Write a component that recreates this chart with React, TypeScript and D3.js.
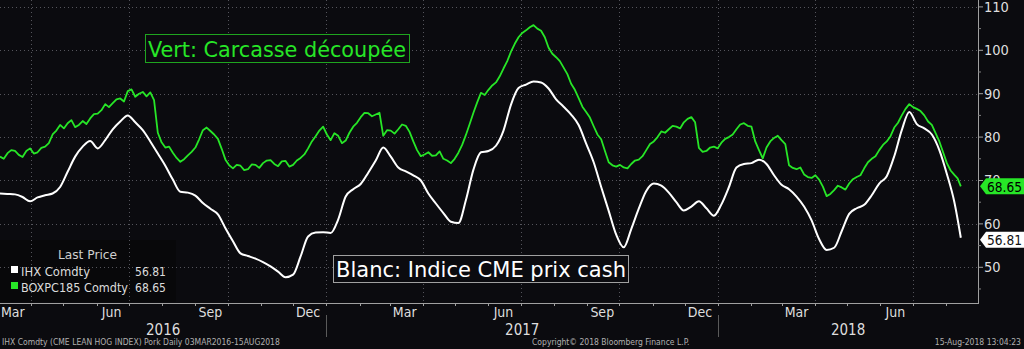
import React from "react";
import * as d3 from "d3";

const W = 1024;
const H = 349;
const startDate = new Date(2016, 2, 3);
const endDate = new Date(2018, 7, 31);
const lastDate = new Date(2018, 7, 15);

// weekly category grid (Thursdays from 03MAR2016) plus the last print 15AUG2018
const weekCount = 128;
const dates: Date[] = [
  ...d3.range(weekCount).map((i) => d3.timeDay.offset(startDate, i * 7)),
  lastDate,
];

// IHX Comdty (CME lean hog index) — white
const ihxValues = [
  67.0, 66.9, 66.8, 66.2, 65.2, 66.1, 66.6, 67.0, 68.5, 72.0,
  75.5, 77.8, 79.1, 77.4, 79.3, 81.8, 83.6, 85.0, 83.4, 81.6,
  79.0, 76.2, 73.4, 70.2, 67.4, 67.2, 66.5, 64.8, 63.5, 62.2,
  59.0, 56.0, 53.2, 52.6, 52.0, 51.2, 50.2, 49.0, 47.7, 48.3,
  52.5, 57.1, 58.0, 58.1, 57.9, 61.0, 66.3, 68.0, 69.2, 71.8,
  74.6, 77.6, 75.5, 73.0, 72.1, 71.2, 70.0, 67.0, 64.7, 62.5,
  60.5, 60.2, 65.5, 72.5, 76.5, 76.8, 78.0, 81.5, 87.5, 91.3,
  92.1, 92.8, 92.6, 91.2, 88.7, 87.0, 85.2, 82.8, 78.5, 74.2,
  68.5, 63.0, 57.5, 54.6, 58.8, 63.5, 67.6, 69.3, 68.8, 67.2,
  65.0, 63.1, 64.0, 65.2, 63.6, 61.9, 64.5, 68.5, 73.0, 73.8,
  74.0, 74.8, 73.8, 71.2, 69.0, 68.0, 66.3, 64.0, 60.8, 56.5,
  54.0, 54.5, 58.3, 62.3, 63.6, 64.4, 66.6, 69.3, 71.0, 75.6,
  81.6, 85.8, 83.0, 82.0, 80.6, 77.0, 71.5, 65.0, 56.81,
];

// BOXPC185 Comdty (pork cutout) — green, weekly prints
const boxValues = [
  75.5, 76.3, 76.8, 75.4, 77.4, 76.5, 77.8, 80.6, 82.8, 83.2,
  82.3, 83.7, 84.3, 85.4, 87.6, 87.8, 88.9, 90.6, 89.3, 90.4,
  90.3, 81.0, 77.6, 76.4, 74.3, 75.8, 77.6, 81.6, 81.4, 79.6,
  74.8, 72.8, 73.4, 72.6, 73.6, 74.0, 74.7, 73.3, 74.5, 73.6,
  75.2, 77.4, 80.2, 82.4, 79.3, 80.3, 79.2, 82.4, 84.6, 85.5,
  85.2, 80.3, 81.5, 81.8, 82.6, 79.0, 75.6, 76.5, 75.8, 75.0,
  74.0, 76.4, 80.5, 85.6, 90.2, 90.9, 92.6, 95.8, 99.7, 103.0,
  104.6, 105.8, 104.5, 100.6, 98.4, 96.0, 92.3, 89.0, 85.8, 82.5,
  79.5, 74.2, 73.2, 73.0, 73.8, 74.8, 77.0, 79.0, 81.3, 81.8,
  82.4, 83.4, 84.6, 77.5, 76.8, 77.8, 78.7, 80.0, 81.8, 83.2,
  82.4, 77.0, 77.6, 79.8, 79.3, 73.5, 72.6, 71.4, 70.6, 70.2,
  66.4, 67.8, 68.4, 69.3, 70.8, 72.8, 75.0, 77.0, 79.0, 82.2,
  85.0, 87.6, 86.5, 85.0, 82.8, 79.0, 74.0, 71.3, 68.65,
];

// BOXPC185 Comdty — mid-week prints (between consecutive weekly prints)
const boxMidValues = [
  75.0, 77.0, 75.9, 76.8, 76.2, 77.5, 78.6, 81.5, 82.0, 83.9,
  82.8, 83.0, 85.3, 86.2, 86.9, 88.7, 88.2, 91.0, 90.0, 89.4,
  88.5, 78.8, 77.8, 75.2, 74.9, 76.6, 79.5, 82.2, 80.6, 77.3,
  73.5, 73.6, 72.4, 73.7, 72.9, 74.6, 73.8, 74.4, 73.2, 74.6,
  76.0, 79.0, 81.5, 80.6, 80.9, 78.6, 81.0, 83.3, 85.6, 84.8,
  85.6, 81.6, 80.8, 82.9, 81.2, 77.0, 76.0, 75.7, 76.7, 74.6,
  75.0, 78.2, 83.0, 88.0, 89.7, 91.9, 94.0, 97.5, 101.5, 104.0,
  105.3, 105.0, 103.0, 99.2, 97.5, 94.5, 90.9, 87.0, 84.5, 80.6,
  76.8, 73.5, 73.6, 72.8, 74.6, 75.6, 78.4, 80.0, 81.0, 82.6,
  82.0, 84.2, 83.4, 76.6, 77.6, 77.4, 79.6, 80.6, 82.9, 82.6,
  79.0, 75.1, 79.0, 80.3, 78.4, 72.9, 73.0, 70.8, 71.2, 68.6,
  66.9, 68.8, 67.9, 70.3, 71.2, 74.2, 75.6, 78.2, 80.2, 83.3,
  86.5, 86.9, 86.0, 83.6, 80.9, 76.5, 72.3, 70.5,
];

const yTicks = [50, 60, 70, 80, 90, 100, 110];
const yMinorTicks = [45, 55, 65, 75, 85, 95, 105];
const monthLabels = ["Mar", "Jun", "Sep", "Dec"];
const years = [2016, 2017, 2018];
const lastIhx = "56.81";
const lastBox = "68.65";

const GREEN = "#27e627";
const FONT = "'DejaVu Sans Condensed', 'DejaVu Sans', sans-serif";

type Pt = { d: Date; v: number };

export default function App() {
  const plotL = 0;
  const plotR = 978;
  const plotT = 0;
  const plotB = 303;

  const x = d3.scaleTime().domain([startDate, endDate]).range([plotL, plotR]);
  const y = d3.scaleLinear().domain([41.77, 111.59]).range([plotB, plotT]);

  const ihx: Pt[] = dates.map((d, i) => ({ d, v: ihxValues[i] }));
  const box: Pt[] = [];
  dates.forEach((d, i) => {
    box.push({ d, v: boxValues[i] });
    if (i < boxMidValues.length) {
      const next = dates[i + 1];
      box.push({ d: new Date((+d + +next) / 2), v: boxMidValues[i] });
    }
  });

  const lineSmooth = d3
    .line<Pt>()
    .x((p) => x(p.d))
    .y((p) => y(p.v))
    .curve(d3.curveMonotoneX);
  const lineJag = d3
    .line<Pt>()
    .x((p) => x(p.d))
    .y((p) => y(p.v));

  const months = d3.timeMonth.range(d3.timeMonth.ceil(startDate), endDate);
  const quarterStarts = months.filter((m) => m.getMonth() % 3 === 0);
  const yearStarts = months.filter((m) => m.getMonth() === 0);
  const labelMonths = d3
    .timeMonth.range(d3.timeMonth.floor(startDate), endDate)
    .filter((m) => monthLabels.includes(d3.timeFormat("%b")(m)));

  const yIhx = y(+lastIhx);
  const yBox = y(+lastBox);

  const tag = (cy: number) =>
    `M${plotR + 2},${cy} L${plotR + 8},${cy - 8} L${W},${cy - 8} L${W},${cy + 8} L${plotR + 8},${cy + 8} Z`;

  return (
    <svg
      width={W}
      height={H}
      style={{ position: "absolute", left: 0, top: 0, display: "block" }}
      fontFamily={FONT}
    >
      <rect x={0} y={0} width={W} height={H} fill="#0b0b0f" />
      <rect x={0} y={240} width={176} height={62} fill="#08080a" />

      {/* grid */}
      {yTicks.map((t) => (
        <line
          key={"gy" + t}
          x1={plotL}
          x2={plotR}
          y1={Math.round(y(t)) + 0.5}
          y2={Math.round(y(t)) + 0.5}
          stroke="#55555c"
          strokeDasharray="1,3"
        />
      ))}
      {quarterStarts.map((m) => (
        <line
          key={"gx" + m.getTime()}
          x1={Math.round(x(m)) + 0.5}
          x2={Math.round(x(m)) + 0.5}
          y1={plotT}
          y2={plotB}
          stroke="#55555c"
          strokeDasharray="1,3"
        />
      ))}

      {/* title boxes */}
      <rect x={145.5} y={34.5} width={264} height={28} fill="#0b0b0f" stroke="#1fa51f" strokeWidth={1} />
      <text x={148} y={57} fill={GREEN} fontSize={22} textLength={258} lengthAdjust="spacingAndGlyphs">
        Vert: Carcasse découpée
      </text>
      <rect x={333.5} y={255.5} width={295} height={27} fill="#0b0b0f" stroke="#a0a0a0" strokeWidth={1} />
      <text x={336} y={277} fill="#ffffff" fontSize={22} textLength={290} lengthAdjust="spacingAndGlyphs">
        Blanc: Indice CME prix cash
      </text>

      {/* series */}
      <path d={lineJag(box) || ""} fill="none" stroke={GREEN} strokeWidth={1.8} strokeLinejoin="round" />
      <path d={lineSmooth(ihx) || ""} fill="none" stroke="#ffffff" strokeWidth={2} strokeLinejoin="round" />

      {/* legend */}
      <text x={58} y={259} fill="#cfcfcf" fontSize={13} textLength={59} lengthAdjust="spacingAndGlyphs">
        Last Price
      </text>
      <rect x={11} y={266} width={7} height={7} fill="#ffffff" />
      <text x={21} y={276} fill="#dcdcdc" fontSize={13} textLength={69} lengthAdjust="spacingAndGlyphs">
        IHX Comdty
      </text>
      <text x={135} y={276} fill="#dcdcdc" fontSize={13} textLength={31} lengthAdjust="spacingAndGlyphs">
        {lastIhx}
      </text>
      <rect x={11} y={282} width={7} height={7} fill={GREEN} />
      <text x={21} y={292} fill="#dcdcdc" fontSize={13} textLength={107} lengthAdjust="spacingAndGlyphs">
        BOXPC185 Comdty
      </text>
      <text x={135} y={292} fill="#dcdcdc" fontSize={13} textLength={31} lengthAdjust="spacingAndGlyphs">
        {lastBox}
      </text>

      {/* axes */}
      <line x1={plotR + 0.5} x2={plotR + 0.5} y1={0} y2={plotB + 1} stroke="#a0a0a0" />
      <line x1={0} x2={plotR + 1} y1={plotB + 0.5} y2={plotB + 0.5} stroke="#a0a0a0" />
      {yTicks.map((t) => (
        <g key={"yt" + t}>
          <line x1={plotR} x2={plotR + 5} y1={y(t)} y2={y(t)} stroke="#a0a0a0" />
          <text x={plotR + 6} y={y(t) + 5} fill="#dedede" fontSize={14.5}>{t}</text>
        </g>
      ))}
      {yMinorTicks.map((t) => (
        <line key={"ym" + t} x1={plotR} x2={plotR + 3} y1={y(t)} y2={y(t)} stroke="#808080" />
      ))}
      {months.map((m) => (
        <line
          key={"mt" + m.getTime()}
          x1={Math.round(x(m)) + 0.5}
          x2={Math.round(x(m)) + 0.5}
          y1={plotB}
          y2={plotB + 3}
          stroke="#a0a0a0"
        />
      ))}
      {labelMonths.map((m) => {
        const mid = x(d3.timeDay.offset(m, 14));
        const cx = Math.max(11, mid);
        return (
          <text key={"ml" + m.getTime()} x={cx} y={317} fill="#dedede" fontSize={14} textAnchor="middle">
            {d3.timeFormat("%b")(m)}
          </text>
        );
      })}
      {yearStarts.map((m) => (
        <line
          key={"ys" + m.getTime()}
          x1={Math.round(x(m)) + 0.5}
          x2={Math.round(x(m)) + 0.5}
          y1={315}
          y2={337}
          stroke="#5a5a5a"
        />
      ))}
      {years.map((yr) => {
        const a = Math.max(+startDate, +new Date(yr, 0, 1));
        const b = Math.min(+endDate, +new Date(yr + 1, 0, 1));
        const cx = (x(new Date(a)) + x(new Date(b))) / 2;
        return (
          <text key={"yr" + yr} x={cx} y={335} fill="#dedede" fontSize={15} textAnchor="middle">
            {yr}
          </text>
        );
      })}

      {/* last price tags */}
      <path d={tag(yBox)} fill={GREEN} />
      <text x={987} y={yBox + 5.5} fill="#000000" fontSize={14} textLength={35} lengthAdjust="spacingAndGlyphs">
        {lastBox}
      </text>
      <path d={tag(yIhx + 2)} fill="#ffffff" />
      <text x={987} y={yIhx + 7.5} fill="#111111" fontSize={14} textLength={35} lengthAdjust="spacingAndGlyphs">
        {lastIhx}
      </text>

      {/* footer */}
      <text x={2} y={345} fill="#b0b0b0" fontSize={8.5}>
        IHX Comdty (CME LEAN HOG INDEX) Pork  Daily 03MAR2016-15AUG2018
      </text>
      <text x={532} y={345} fill="#b0b0b0" fontSize={8.5}>
        Copyright© 2018 Bloomberg Finance L.P.
      </text>
      <text x={1021} y={345} fill="#b0b0b0" fontSize={8.5} textAnchor="end">
        15-Aug-2018 13:04:23
      </text>
    </svg>
  );
}
